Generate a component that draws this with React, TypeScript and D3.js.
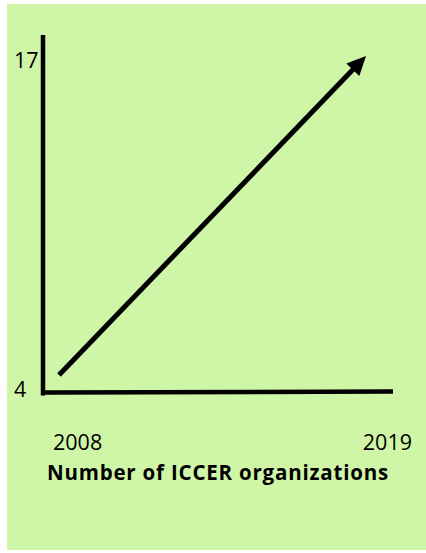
import * as d3 from 'd3';

const years = [2008, 2019];
const counts = [4, 17];
const yLabels = ['4', '17'];
const xLabels = ['2008', '2019'];
const title = 'Number of ICCER organizations';

const W = 426;
const H = 553;
const bg = '#cff5a7';
const font = '"Open Sans", "Noto Sans", sans-serif';

const App = () => {
  // frame of the axes
  const axisX = 43;
  const axisY = 392.5;
  const axisTop = 35;
  const axisRight = 393;

  // arrow sits inside the frame
  const x = d3.scaleLinear().domain(d3.extent(years) as [number, number]).range([59, 366]);
  const y = d3.scaleLinear().domain(d3.extent(counts) as [number, number]).range([375, 56]);

  const pts: [number, number][] = years.map((yr, i) => [x(yr), y(counts[i])]);
  const line = d3.line();

  // arrow head
  const [x0, y0] = pts[0];
  const [x1, y1] = pts[1];
  const ang = Math.atan2(y1 - y0, x1 - x0);
  const headLen = 19;
  const headW = 9;
  const bx = x1 - headLen * Math.cos(ang);
  const by = y1 - headLen * Math.sin(ang);
  const nx = -Math.sin(ang);
  const ny = Math.cos(ang);
  const head = [
    [x1, y1],
    [bx + nx * headW, by + ny * headW],
    [bx - nx * headW, by - ny * headW],
  ];
  const shaftEnd: [number, number] = [x1 - (headLen - 4) * Math.cos(ang), y1 - (headLen - 4) * Math.sin(ang)];

  return (
    <svg width={W} height={H} style={{ position: 'absolute', left: 0, top: 0 }}>
      <rect x={7} y={4} width={W - 7} height={546} fill={bg} />

      {/* axes */}
      <line x1={axisX} x2={axisX} y1={axisTop} y2={axisY + 3} stroke="#000" strokeWidth={4.5} />
      <line x1={axisX + 2} x2={axisRight} y1={axisY} y2={axisY - 1} stroke="#000" strokeWidth={4.5} />

      {/* arrow */}
      <path d={line([pts[0], shaftEnd]) || ''} stroke="#000" strokeWidth={5} fill="none" />
      <polygon points={head.map(p => p.join(',')).join(' ')} fill="#000" />

      {/* y labels */}
      <text x={14} y={68} fontFamily={font} fontSize={21.5} fill="#000">{yLabels[1]}</text>
      <text x={14} y={397} fontFamily={font} fontSize={21.5} fill="#000">{yLabels[0]}</text>

      {/* x labels */}
      <text x={53} y={450} fontFamily={font} fontSize={21.5} fill="#000">{xLabels[0]}</text>
      <text x={412} y={450} fontFamily={font} fontSize={21.5} fill="#000" textAnchor="end">{xLabels[1]}</text>

      <text x={218} y={480} fontFamily={font} fontSize={20.5} fontWeight="bold" letterSpacing={0.8} fill="#000" textAnchor="middle">
        {title}
      </text>
    </svg>
  );
};

export default App;
